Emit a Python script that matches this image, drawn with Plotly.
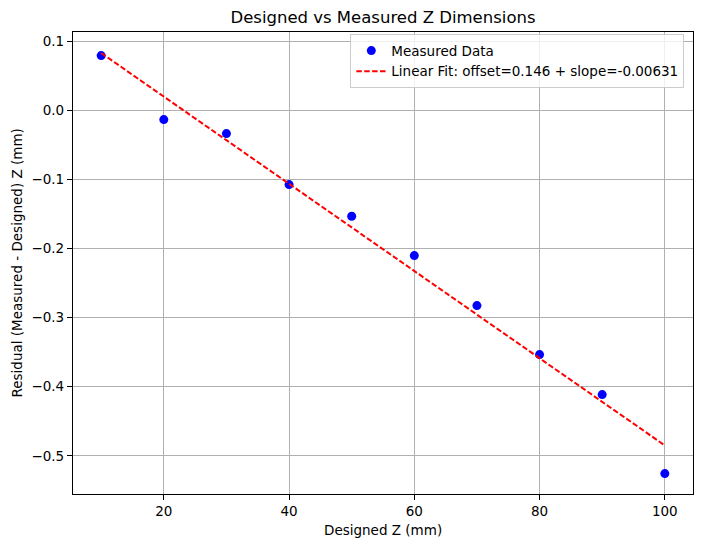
import plotly.graph_objects as go

# Data
designed_z = [10, 20, 30, 40, 50, 60, 70, 80, 90, 100]
residual_z = [0.0792, -0.0135, -0.0337, -0.1075, -0.1534, -0.2103, -0.2826, -0.3535, -0.4114, -0.5258]
fit_x = [10, 100]
fit_y = [0.0829, -0.4850]
fit_label = "Linear Fit: offset=0.146 + slope=-0.00631"

x_tickvals = [20, 40, 60, 80, 100]
x_ticktext = ["20", "40", "60", "80", "100"]
y_tickvals = [0.1, 0.0, -0.1, -0.2, -0.3, -0.4, -0.5]
y_ticktext = ["0.1", "0.0", "\u22120.1", "\u22120.2", "\u22120.3", "\u22120.4", "\u22120.5"]

FONT = "DejaVu Sans"

fig = go.Figure()
fig.add_trace(go.Scatter(
    x=designed_z, y=residual_z, mode="markers", name="Measured Data",
    marker=dict(color="#0000ff", size=9, line=dict(width=0)),
))
fig.add_trace(go.Scatter(
    x=fit_x, y=fit_y, mode="lines", name=fit_label,
    line=dict(color="#ff0000", width=2, dash="5.5px,2.4px"),
))

axis_common = dict(
    showgrid=True, gridcolor="#b0b0b0", gridwidth=1,
    showline=True, linecolor="black", linewidth=1.2, mirror=True,
    ticks="outside", ticklen=5, tickwidth=1, tickcolor="black",
    zeroline=False,
    tickfont=dict(family=FONT, size=13.5, color="black"),
)

fig.update_layout(
    width=702, height=547,
    margin=dict(l=73, r=9, t=32, b=53),
    paper_bgcolor="white", plot_bgcolor="white",
    font=dict(family=FONT, color="black"),
    title=dict(text="Designed vs Measured Z Dimensions", x=0.5, xref="paper",
               y=1 - 17 / 547, yref="container", yanchor="middle", xanchor="center",
               font=dict(family=FONT, size=16.5, color="black")),
    xaxis=dict(range=[5.5, 104.5], tickvals=x_tickvals, ticktext=x_ticktext, **axis_common),
    yaxis=dict(range=[-0.5553, 0.1133], tickvals=y_tickvals, ticktext=y_ticktext, **axis_common),
    showlegend=True,
    legend=dict(x=0.986, y=0.995, xanchor="right", yanchor="top",
                bgcolor="rgba(255,255,255,0.8)", bordercolor="#cccccc", borderwidth=1,
                font=dict(family=FONT, size=13.5, color="black"),
                tracegroupgap=0, itemwidth=30),
    annotations=[
        dict(text="Designed Z (mm)", x=0.5, xref="paper", y=-(530 - 494.3) / 462.3, yref="paper",
             xanchor="center", yanchor="middle", showarrow=False,
             font=dict(family=FONT, size=13.5, color="black")),
        dict(text="Residual (Measured - Designed) Z (mm)", x=-(73.3 - 17) / 620.0, xref="paper",
             y=(494.3 - 263) / 462.3, yref="paper", textangle=-90,
             xanchor="center", yanchor="middle", showarrow=False,
             font=dict(family=FONT, size=13.5, color="black")),
    ],
)

fig.write_html("out.html")
